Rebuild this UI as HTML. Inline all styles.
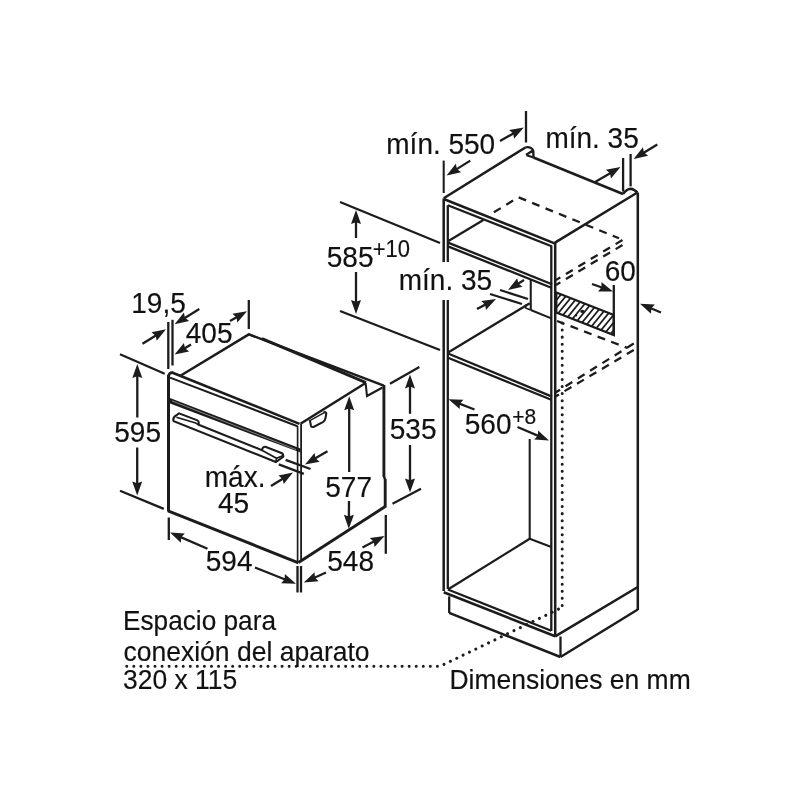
<!DOCTYPE html>
<html><head><meta charset="utf-8"><style>
html,body{margin:0;padding:0;background:#fff;width:800px;height:800px;overflow:hidden}
svg{display:block;filter:blur(0.35px)}
text{font-family:"Liberation Sans",sans-serif;fill:#111;stroke:#111;stroke-width:0.15}
</style></head><body>
<svg width="800" height="800" viewBox="0 0 800 800">
<rect width="800" height="800" fill="#fff"/>
<g stroke="#1c1c1c" fill="none" stroke-linecap="butt">
<line x1="168.5" y1="375" x2="168.5" y2="511.5" stroke-width="3"/>
<path d="M168.5,377 Q168.8,372 173,372.6" stroke-width="2.76" fill="none"/>
<line x1="172" y1="372.5" x2="299.5" y2="423.8" stroke-width="2.53"/>
<line x1="170" y1="377.6" x2="297.5" y2="426.2" stroke-width="2.07"/>
<line x1="168" y1="510.8" x2="298.5" y2="562.8" stroke-width="3"/>
<line x1="297.6" y1="426" x2="297.6" y2="561.5" stroke-width="1.67"/>
<line x1="301.1" y1="424" x2="301.1" y2="562" stroke-width="1.84"/>
<polygon points="170,398 300.5,448.6 300.5,452.6 170,403.6" fill="#1c1c1c" stroke="none"/>
<line x1="172" y1="400.9" x2="296" y2="449.6" stroke-width="0.8" stroke="#9a9a9a"/>
<path d="M173.3,420.5 Q173,417 176,415.5 L179,413.4 L197.4,420.4 Q198.7,421 198.7,422.5 L198.7,424.75 L261.9,450.2 L262.75,448 Q263.5,446.5 265.4,446.7 L282,453.25 Q283.3,454 283.3,456 L283.3,456.75 L275.9,462 L173.75,421.25 Z" stroke-width="2.07" fill="none"/>
<path d="M176.4,417.3 L195.6,423 L198.7,424.75 M261.9,450.2 L276.5,458.3 L283.3,455.5 M276.5,458.3 L275.9,462" stroke-width="1.72" fill="none"/>
<line x1="180" y1="376" x2="248.8" y2="334.4" stroke-width="2.53"/>
<line x1="248" y1="334" x2="383.8" y2="385.6" stroke-width="2.53"/>
<line x1="262" y1="338.6" x2="366" y2="382.6" stroke-width="2.9"/>
<line x1="300.5" y1="423.8" x2="365.6" y2="383" stroke-width="2.53"/>
<path d="M365.6,383 L367,396 L382.5,387.5" stroke-width="2.07" fill="none"/>
<line x1="383.9" y1="385" x2="383.9" y2="477" stroke-width="2.9"/>
<line x1="385.2" y1="479" x2="385.2" y2="507.5" stroke-width="2.9"/>
<line x1="383.9" y1="476.5" x2="385.2" y2="479.5" stroke-width="2.3"/>
<line x1="298.5" y1="562.6" x2="385.2" y2="506.6" stroke-width="3"/>
<path d="M310,421 L311,426 Q311.5,427.8 314.5,426.5 L323.3,421.8 Q325,420.8 325.5,418 L326.3,413.5 Q326.2,411.8 323.5,412.3" stroke-width="2.07" fill="none"/>
<line x1="309" y1="421.2" x2="326" y2="411.6" stroke-width="1.49"/>
<line x1="168.3" y1="322" x2="168.3" y2="369" stroke-width="2.3"/>
<line x1="172.5" y1="319.8" x2="172.5" y2="365.5" stroke-width="2.3"/>
<line x1="142.5" y1="343.8" x2="156.66" y2="335.0" stroke-width="2.3"/>
<polygon points="166.00,329.20 156.75,340.84 155.64,335.64 151.47,332.34" fill="#1c1c1c" stroke="none"/>
<line x1="199.3" y1="309" x2="183.97" y2="318.43" stroke-width="2.3"/>
<polygon points="174.60,324.20 183.90,312.60 184.99,317.81 189.14,321.12" fill="#1c1c1c" stroke="none"/>
<line x1="248.8" y1="300" x2="248.8" y2="329" stroke-width="2.3"/>
<line x1="191" y1="344.5" x2="183.97" y2="348.83" stroke-width="2.3"/>
<polygon points="174.60,354.60 183.90,343.00 184.99,348.20 189.14,351.52" fill="#1c1c1c" stroke="none"/>
<line x1="230" y1="321" x2="237.47" y2="316.69" stroke-width="2.3"/>
<polygon points="247.00,311.20 237.37,322.52 236.43,317.29 232.37,313.86" fill="#1c1c1c" stroke="none"/>
<line x1="120" y1="354.2" x2="164.7" y2="373.7" stroke-width="2.3"/>
<line x1="120" y1="490.7" x2="163.8" y2="508.9" stroke-width="2.3"/>
<line x1="137.3" y1="417.5" x2="137.3" y2="375.0" stroke-width="2.3"/>
<polygon points="137.30,364.00 142.30,378.00 137.30,376.20 132.30,378.00" fill="#1c1c1c" stroke="none"/>
<line x1="137.2" y1="447.5" x2="137.2" y2="484.5" stroke-width="2.3"/>
<polygon points="137.20,495.50 132.20,481.50 137.20,483.30 142.20,481.50" fill="#1c1c1c" stroke="none"/>
<line x1="168.8" y1="517.5" x2="168.8" y2="540" stroke-width="2.3"/>
<line x1="297.5" y1="566" x2="297.5" y2="592.5" stroke-width="2.3"/>
<line x1="301" y1="566" x2="301" y2="592.5" stroke-width="2.3"/>
<line x1="207.5" y1="548.8" x2="180.09" y2="536.89" stroke-width="2.3"/>
<polygon points="170.00,532.50 184.83,533.50 181.19,537.36 180.85,542.67" fill="#1c1c1c" stroke="none"/>
<line x1="255" y1="567.5" x2="285.78" y2="579.74" stroke-width="2.3"/>
<polygon points="296.00,583.80 281.14,583.27 284.66,579.29 284.84,573.98" fill="#1c1c1c" stroke="none"/>
<line x1="385.8" y1="515" x2="385.8" y2="553.8" stroke-width="2.3"/>
<line x1="326" y1="572.5" x2="313.83" y2="577.98" stroke-width="2.3"/>
<polygon points="303.80,582.50 314.51,572.19 314.92,577.49 318.62,581.31" fill="#1c1c1c" stroke="none"/>
<line x1="362.5" y1="547.5" x2="374.84" y2="541.08" stroke-width="2.3"/>
<polygon points="384.60,536.00 374.49,546.90 373.78,541.63 369.87,538.03" fill="#1c1c1c" stroke="none"/>
<line x1="349.2" y1="472" x2="349.2" y2="407.2" stroke-width="2.3"/>
<polygon points="349.20,396.20 354.20,410.20 349.20,408.40 344.20,410.20" fill="#1c1c1c" stroke="none"/>
<line x1="349" y1="501" x2="348.88" y2="517.8" stroke-width="2.3"/>
<polygon points="348.80,528.80 343.90,514.76 348.89,516.60 353.90,514.84" fill="#1c1c1c" stroke="none"/>
<line x1="390" y1="383.8" x2="419.4" y2="366.9" stroke-width="2.3"/>
<line x1="392.5" y1="503.8" x2="421" y2="488.8" stroke-width="2.3"/>
<line x1="410" y1="413.8" x2="410.0" y2="385.4" stroke-width="2.3"/>
<polygon points="410.00,374.40 415.00,388.40 410.00,386.60 405.00,388.40" fill="#1c1c1c" stroke="none"/>
<line x1="410" y1="445" x2="410.0" y2="481.5" stroke-width="2.3"/>
<polygon points="410.00,492.50 405.00,478.50 410.00,480.30 415.00,478.50" fill="#1c1c1c" stroke="none"/>
<line x1="285.6" y1="459.8" x2="310.5" y2="469" stroke-width="2.3"/>
<line x1="278.8" y1="464.4" x2="303.8" y2="473.8" stroke-width="2.3"/>
<line x1="327.5" y1="451.2" x2="314.49" y2="458.83" stroke-width="2.3"/>
<polygon points="305.00,464.40 314.55,453.00 315.52,458.23 319.61,461.63" fill="#1c1c1c" stroke="none"/>
<line x1="271" y1="486" x2="283.62" y2="478.25" stroke-width="2.3"/>
<polygon points="293.00,472.50 283.68,484.08 282.60,478.88 278.45,475.56" fill="#1c1c1c" stroke="none"/>
<line x1="443.7" y1="160.6" x2="443.7" y2="193" stroke-width="2.07"/>
<line x1="443.7" y1="198.6" x2="443.7" y2="591" stroke-width="2.53"/>
<line x1="447.8" y1="205.2" x2="447.8" y2="589" stroke-width="2.3"/>
<line x1="551.3" y1="245.5" x2="551.3" y2="631" stroke-width="2.3"/>
<line x1="555.2" y1="243" x2="555.2" y2="636.5" stroke-width="2.53"/>
<line x1="637.8" y1="192.5" x2="637.8" y2="610" stroke-width="2.53"/>
<line x1="443.7" y1="198.3" x2="525.4" y2="147.5" stroke-width="2.53"/>
<path d="M525.4,147.5 Q528,146.5 531,148 Q533.2,149.5 533.3,151 L533.5,157.5 M526,155 L532.5,150.8 M526,155 L533.5,157.5" stroke-width="2.3" fill="none"/>
<line x1="533.5" y1="157.5" x2="623" y2="194" stroke-width="2.53"/>
<path d="M623,194 Q627,189 630.5,188.8 Q634,189 637.4,192.5" stroke-width="2.53" fill="none"/>
<line x1="443.7" y1="199" x2="555.2" y2="243.6" stroke-width="2.53"/>
<line x1="447.8" y1="205.2" x2="551.6" y2="246.2" stroke-width="2.3"/>
<line x1="637.4" y1="192.5" x2="555" y2="242.6" stroke-width="2.53"/>
<line x1="448.4" y1="241.1" x2="483.4" y2="220.1" stroke-width="2.3"/>
<line x1="448" y1="242.6" x2="552" y2="284.2" stroke-width="2.3"/>
<line x1="448" y1="246.4" x2="551.3" y2="287.7" stroke-width="2.3"/>
<line x1="530.75" y1="279.5" x2="530.75" y2="310" stroke-width="2.07"/>
<line x1="530.75" y1="310" x2="551.3" y2="318.4" stroke-width="2.07"/>
<line x1="525.5" y1="308" x2="530.75" y2="310" stroke-width="1.72"/>
<line x1="525.8" y1="304.5" x2="525.5" y2="308.3" stroke-width="1.72"/>
<line x1="448.5" y1="352.2" x2="529.8" y2="303.2" stroke-width="2.3"/>
<line x1="448" y1="353.5" x2="552" y2="396.6" stroke-width="2.3"/>
<line x1="448" y1="357.8" x2="551.3" y2="399.8" stroke-width="2.3"/>
<line x1="529.7" y1="439" x2="529.7" y2="539" stroke-width="2.07"/>
<line x1="529.7" y1="538.8" x2="551.3" y2="547" stroke-width="2.07"/>
<line x1="447.9" y1="589.5" x2="529.7" y2="538.8" stroke-width="2.3"/>
<line x1="443.7" y1="592.2" x2="555.2" y2="636.3" stroke-width="2.53"/>
<line x1="447.9" y1="589.5" x2="551.3" y2="630.8" stroke-width="2.3"/>
<line x1="449.2" y1="596.4" x2="449.2" y2="613" stroke-width="2.3"/>
<line x1="449.2" y1="612.9" x2="560.5" y2="657" stroke-width="2.53"/>
<line x1="560.5" y1="636.5" x2="560.5" y2="657" stroke-width="2.3"/>
<line x1="560.5" y1="657" x2="637.8" y2="609.5" stroke-width="2.53"/>
<line x1="555.2" y1="636.3" x2="637.8" y2="587" stroke-width="2.53"/>
<path d="M493.9,212.3 L518.5,197.3 L619,238.3" stroke-width="2.3" fill="none" stroke-dasharray="8,6.5"/>
<line x1="622.5" y1="240" x2="556" y2="280" stroke-width="2.3" stroke-dasharray="8,6.5"/>
<line x1="622.5" y1="245" x2="556" y2="285" stroke-width="2.3" stroke-dasharray="8,6.5"/>
<line x1="557" y1="321" x2="627.5" y2="348" stroke-width="2.3" stroke-dasharray="8,6.5"/>
<line x1="633.75" y1="343.5" x2="555.5" y2="392.5" stroke-width="2.3" stroke-dasharray="8,6.5"/>
<line x1="633.75" y1="350" x2="555.5" y2="396.5" stroke-width="2.3" stroke-dasharray="8,6.5"/>
<path d="M126.75,666.3 L440,666.3 L562.2,607.4" stroke-width="3" fill="none" stroke-dasharray="0.01,7.05" stroke-linecap="round"/>
<path d="M562.2,323 L562.2,607.4" stroke-width="3" fill="none" stroke-dasharray="0.01,7.05" stroke-linecap="round"/>
<clipPath id="hc"><path d="M556.3,292.5 L613.8,315 L613.8,335 L556.3,312.5 Z"/></clipPath>
<path d="M467.00,340 L512.00,285 M473.30,340 L518.30,285 M479.60,340 L524.60,285 M485.90,340 L530.90,285 M492.20,340 L537.20,285 M498.50,340 L543.50,285 M504.80,340 L549.80,285 M511.10,340 L556.10,285 M517.40,340 L562.40,285 M523.70,340 L568.70,285 M530.00,340 L575.00,285 M536.30,340 L581.30,285 M542.60,340 L587.60,285 M548.90,340 L593.90,285 M555.20,340 L600.20,285 M561.50,340 L606.50,285 M567.80,340 L612.80,285 M574.10,340 L619.10,285 M580.40,340 L625.40,285 M586.70,340 L631.70,285 M593.00,340 L638.00,285 M599.30,340 L644.30,285 M605.60,340 L650.60,285 M611.90,340 L656.90,285 M618.20,340 L663.20,285 M624.50,340 L669.50,285 M630.80,340 L675.80,285 M637.10,340 L682.10,285 M643.40,340 L688.40,285 M649.70,340 L694.70,285" stroke-width="1.72" fill="none" clip-path="url(#hc)"/>
<path d="M556.3,292.5 L613.8,315 L613.8,335 L556.3,312.5 Z" stroke-width="2.3" fill="none"/>
<line x1="613.8" y1="285" x2="613.8" y2="335" stroke-width="2.3"/>
<ellipse cx="582.3" cy="311.4" rx="2" ry="1.6" fill="#1c1c1c" stroke="none"/>
<circle cx="576.2" cy="315.5" r="1.1" fill="#1c1c1c" stroke="none"/>
<line x1="592" y1="284" x2="602.63" y2="287.74" stroke-width="2.3"/>
<polygon points="613.00,291.40 598.13,291.46 601.49,287.35 601.46,282.03" fill="#1c1c1c" stroke="none"/>
<line x1="661" y1="312.5" x2="650.16" y2="308.01" stroke-width="2.3"/>
<polygon points="640.00,303.80 654.85,304.54 651.27,308.47 651.02,313.78" fill="#1c1c1c" stroke="none"/>
<line x1="623.1" y1="158" x2="623.1" y2="191.6" stroke-width="2.3"/>
<line x1="630.6" y1="154" x2="630.6" y2="186.4" stroke-width="2.3"/>
<line x1="595.1" y1="182" x2="611.01" y2="172.67" stroke-width="2.3"/>
<polygon points="620.50,167.10 610.95,178.50 609.98,173.27 605.89,169.87" fill="#1c1c1c" stroke="none"/>
<line x1="657.3" y1="144.4" x2="642.98" y2="153.16" stroke-width="2.3"/>
<polygon points="633.60,158.90 642.93,147.33 644.01,152.53 648.15,155.86" fill="#1c1c1c" stroke="none"/>
<line x1="470.3" y1="160.6" x2="455.91" y2="169.65" stroke-width="2.3"/>
<polygon points="446.60,175.50 455.79,163.82 456.93,169.01 461.11,172.28" fill="#1c1c1c" stroke="none"/>
<line x1="526" y1="111" x2="526" y2="142.5" stroke-width="2.3"/>
<line x1="500" y1="141" x2="514.23" y2="132.93" stroke-width="2.3"/>
<polygon points="523.80,127.50 514.09,138.76 513.19,133.52 509.16,130.06" fill="#1c1c1c" stroke="none"/>
<line x1="340" y1="202" x2="440" y2="243" stroke-width="2.3"/>
<line x1="340" y1="311" x2="440" y2="350" stroke-width="2.3"/>
<line x1="356" y1="238" x2="356.0" y2="221.0" stroke-width="2.3"/>
<polygon points="356.00,210.00 361.00,224.00 356.00,222.20 351.00,224.00" fill="#1c1c1c" stroke="none"/>
<line x1="356" y1="272" x2="356.0" y2="303.0" stroke-width="2.3"/>
<polygon points="356.00,314.00 351.00,300.00 356.00,301.80 361.00,300.00" fill="#1c1c1c" stroke="none"/>
<line x1="500" y1="290" x2="528" y2="299" stroke-width="2.3"/>
<line x1="490" y1="294" x2="522" y2="304" stroke-width="2.3"/>
<line x1="524" y1="280" x2="517.33" y2="284.17" stroke-width="2.3"/>
<polygon points="508.00,290.00 517.22,278.34 518.35,283.53 522.52,286.82" fill="#1c1c1c" stroke="none"/>
<line x1="477" y1="309" x2="486.27" y2="304.12" stroke-width="2.3"/>
<polygon points="496.00,299.00 485.94,309.95 485.20,304.68 481.28,301.10" fill="#1c1c1c" stroke="none"/>
<line x1="474.5" y1="409.5" x2="458.74" y2="403.32" stroke-width="2.3"/>
<polygon points="448.50,399.30 463.36,399.76 459.86,403.76 459.71,409.07" fill="#1c1c1c" stroke="none"/>
<line x1="517.5" y1="427" x2="538.89" y2="436.17" stroke-width="2.3"/>
<polygon points="549.00,440.50 534.16,439.58 537.79,435.69 538.10,430.39" fill="#1c1c1c" stroke="none"/>
<rect x="439" y="262" width="12" height="38" fill="#fff" stroke="none"/>
<text x="386.3" y="153.7" font-size="28" transform="matrix(1,0,0,1.08,0,-12.296)">mín. 550</text>
<text x="545.4" y="148.2" font-size="28" transform="matrix(1,0,0,1.08,0,-11.856)">mín. 35</text>
<text x="326.8" y="266.7" font-size="28" transform="matrix(1,0,0,1.08,0,-21.336)">585</text>
<text x="372.8" y="256.7" font-size="22" transform="matrix(1,0,0,1.08,0,-20.536)">+10</text>
<text x="398.8" y="289.7" font-size="28" transform="matrix(1,0,0,1.08,0,-23.176)">mín. 35</text>
<text x="604.8" y="280.7" font-size="28" transform="matrix(1,0,0,1.08,0,-22.456)">60</text>
<text x="464.8" y="433.7" font-size="28" transform="matrix(1,0,0,1.08,0,-34.696)">560</text>
<text x="512.3" y="423.7" font-size="21" transform="matrix(1,0,0,1.08,0,-33.896)">+8</text>
<text x="131.3" y="312.7" font-size="28" transform="matrix(1,0,0,1.08,0,-25.016)">19,5</text>
<text x="185.8" y="343.2" font-size="28" transform="matrix(1,0,0,1.08,0,-27.456)">405</text>
<text x="114.3" y="441.7" font-size="28" transform="matrix(1,0,0,1.08,0,-35.336)">595</text>
<text x="389.8" y="439.2" font-size="28" transform="matrix(1,0,0,1.08,0,-35.136)">535</text>
<text x="325.3" y="496.7" font-size="28" transform="matrix(1,0,0,1.08,0,-39.736)">577</text>
<text x="204.8" y="486.7" font-size="28" transform="matrix(1,0,0,1.08,0,-38.936)">máx.</text>
<text x="218" y="513.2" font-size="28" transform="matrix(1,0,0,1.08,0,-41.056)">45</text>
<text x="205.8" y="570.7" font-size="28" transform="matrix(1,0,0,1.08,0,-45.656)">594</text>
<text x="327.3" y="570.7" font-size="28" transform="matrix(1,0,0,1.08,0,-45.656)">548</text>
<text x="123" y="630.5" font-size="26" textLength="153" lengthAdjust="spacingAndGlyphs" transform="matrix(1,0,0,1.08,0,-50.440)">Espacio para</text>
<text x="123.4" y="661" font-size="26" textLength="246.2" lengthAdjust="spacingAndGlyphs" transform="matrix(1,0,0,1.08,0,-52.880)">conexión del aparato</text>
<text x="123" y="689.5" font-size="26" textLength="114.3" lengthAdjust="spacingAndGlyphs" transform="matrix(1,0,0,1.08,0,-55.160)">320 x 115</text>
<text x="449.4" y="689.5" font-size="26" textLength="241.3" lengthAdjust="spacingAndGlyphs" transform="matrix(1,0,0,1.08,0,-55.160)">Dimensiones en mm</text>
</g>
</svg>
</body></html>
